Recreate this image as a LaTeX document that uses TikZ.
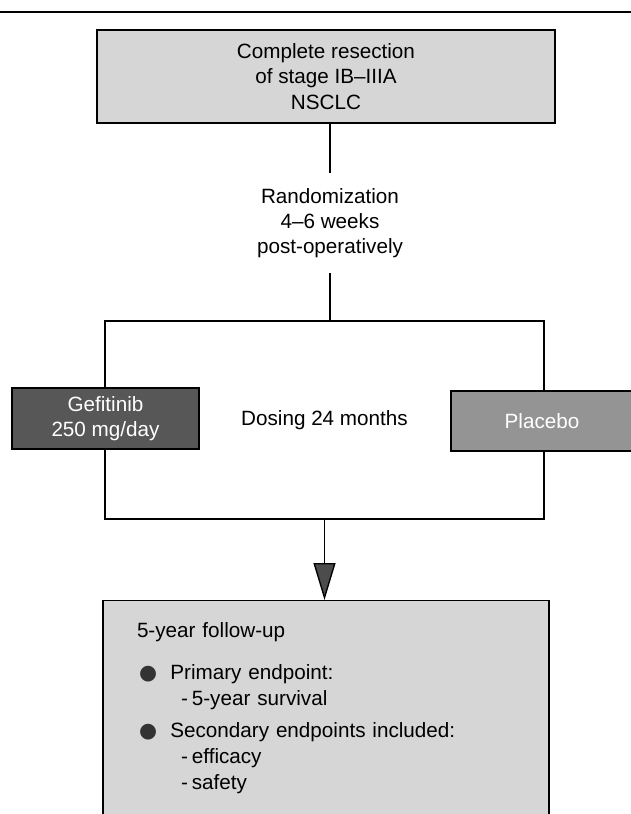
\documentclass[tikz,border=0pt]{standalone}
\usepackage{fontspec}
\setmainfont{Liberation Sans}
\newfontfamily\dotfont{DejaVu Sans}
\usetikzlibrary{arrows.meta}
\newcommand{\bigdot}{{\dotfont\color{black!80}●}}

\begin{document}
\begin{tikzpicture}[x=0.75pt, y=-0.75pt, line width=1pt,
    every node/.style = {font=\fontsize{15.5}{19}\selectfont, align=center},
    shadedBox/.style = {draw, fill=black!16, line width=1.1pt},
    armBox/.style = {draw, line width=1.1pt, text=white, inner sep=0pt},
    ]
  \useasboundingbox (0,0) rectangle (631,814);
  \clip (0,0) rectangle (631,814);
  \draw[line width=0.8pt] (0,12) -- (631,12);

  \node[shadedBox, minimum width=343.5pt, minimum height=69.75pt] (resection) at (326,76.5)
    {Complete resection\\ of stage IB–IIIA\\ NSCLC};
  \node[inner ysep=11pt] (randomization) at (330,223)
    {Randomization\\ 4–6 weeks\\ post-operatively};
  \node[draw, line width=1.1pt, minimum width=329.25pt, minimum height=148.5pt] (dosing) at (324.5,420)
    {Dosing 24 months};
  \node[armBox, fill=black!66, minimum width=140.25pt, minimum height=45.75pt] (gefitinib) at (105.5,418.5)
    {Gefitinib\\ 250 mg/day};
  \node[armBox, fill=black!42, minimum width=136.5pt, minimum height=45pt] (placebo) at (542,421)
    {Placebo};
  \node[shadedBox, anchor=north, minimum width=334.5pt, text width=283.5pt, inner xsep=25.5pt,
    inner ysep=16pt, text depth=120pt, align=left] (followup) at (326,600)
    {5-year follow-up\\[13pt]
     \makebox[25pt][l]{\hspace*{1.5pt}\bigdot}Primary endpoint:\\
     \hspace*{33pt}-\hspace*{3pt}5-year survival\\[5pt]
     \makebox[25pt][l]{\hspace*{1.5pt}\bigdot}Secondary endpoints included:\\[1pt]
     \hspace*{33pt}-\hspace*{3pt}efficacy\\
     \hspace*{33pt}-\hspace*{3pt}safety};

  \draw (resection.south -| randomization.north) -- (randomization.north);
  \draw (randomization.south) -- (randomization.south |- dosing.north);
  \draw[-{Triangle[length=27.75pt, width=16.5pt, fill=black!70]}] (dosing.south) -- (dosing.south |- followup.north);
\end{tikzpicture}
\end{document}
